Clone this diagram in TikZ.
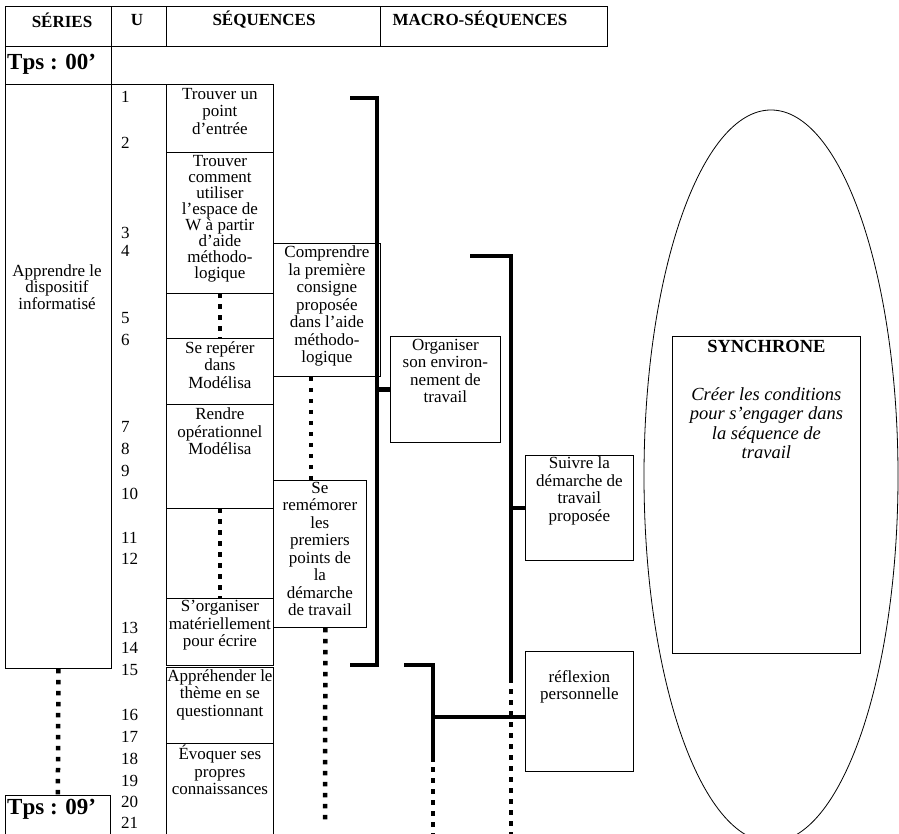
\documentclass[tikz,border=0pt]{standalone}
\usepackage{fontspec}
\setmainfont{Liberation Serif}
\usetikzlibrary{positioning,shapes.geometric}

\tikzset{
  cell/.style={draw,line width=0.8pt,anchor=north west,inner sep=0pt},
  txt/.style={font=\fontsize{17}{17.5}\selectfont,align=center,inner sep=0pt,anchor=north},
  head/.style={font=\fontsize{17}{18}\selectfont\bfseries,inner sep=0pt},
  tps/.style={font=\fontsize{23}{24}\selectfont\bfseries,inner sep=0pt,anchor=west},
  num/.style={font=\fontsize{17}{17}\selectfont,inner sep=0pt,anchor=west},
  brace/.style={line width=4.5pt},
  dots/.style={line width=4.5pt,dash pattern=on 4.5pt off 6.5pt},
}

\begin{document}
\begin{tikzpicture}[x=1pt,y=-1pt]
  \useasboundingbox (0,0) rectangle (899,834);
  \clip (0,0) rectangle (899,834);
  % en-tete
  \node[cell,minimum width=106,minimum height=40] (series) at (5,6) {};
  \node[cell,minimum width=55,minimum height=40] (u) at (111,6) {};
  \node[cell,minimum width=214,minimum height=40] (seq) at (166,6) {};
  \node[cell,minimum width=227,minimum height=40] (macro) at (380,6) {};
  \node[head] (seriest) at (62,20) {SÉRIES};
  \node[head] (ut) at (137,20) {U};
  \node[head] (seqt) at (264,20) {SÉQUENCES};
  \node[head] (macrot) at (480,20) {MACRO-SÉQUENCES};
  \node[cell,minimum width=106,minimum height=38] (tps0) at (5,46) {};
  \node[tps] (tps0t) at (7,64) {Tps : 00’};

  % series
  \node[cell,minimum width=106,minimum height=584] (appr) at (5,84) {};
  \node[txt,anchor=center,font=\fontsize{17}{14.5}\selectfont] (apprt) at (57,287) {Apprendre le\\dispositif\\informatisé};
  \node[cell,minimum width=105,minimum height=60] (tps9) at (5,795) {};
  \node[tps] (tps9t) at (7,809) {Tps : 09’};
  \draw[line width=0.8pt] (appr.north east) -- (166,84);

  % unites
  \foreach \n/\y in {1/97,2/143,3/233,4/251,5/318,6/340,7/427,8/449,9/471,10/494,
                     11/538,12/559,13/628,14/648,15/670,16/715,17/737,18/759,19/781,20/802,21/823}
    \node[num] (u\n) at (121,\y) {\n};

  % sequences
  \node[cell,minimum width=107,minimum height=68] (s1) at (166,84) {};
  \node[cell,minimum width=107,minimum height=141] (s2) at (166,152) {};
  \node[cell,minimum width=107,minimum height=45] (s3) at (166,293) {};
  \node[cell,minimum width=107,minimum height=66] (s4) at (166,338) {};
  \node[cell,minimum width=107,minimum height=104] (s5) at (166,404) {};
  \node[cell,minimum width=107,minimum height=90] (s6) at (166,508) {};
  \node[cell,minimum width=107,minimum height=67] (s7) at (166,598) {};
  \node[cell,minimum width=107,minimum height=76] (s8) at (166,667) {};
  \node[cell,minimum width=107,minimum height=120] (s9) at (166,743) {};
  \node[txt,below=4pt of s1.north] (s1t) {Trouver un\\point\\d’entrée};
  \node[txt,below=3pt of s2.north,font=\fontsize{17}{16}\selectfont] (s2t) {Trouver\\comment\\utiliser\\l’espace de\\W à partir\\d’aide\\méthodo-\\logique};
  \node[txt,below=3pt of s4.north] (s4t) {Se repérer\\dans\\Modélisa};
  \node[txt,below=4pt of s5.north] (s5t) {Rendre\\opérationnel\\Modélisa};
  \node[txt,below=2pt of s7.north] (s7t) {S’organiser\\matériellement\\pour écrire};
  \node[txt,below=2pt of s8.north] (s8t) {Appréhender le\\thème en se\\questionnant};
  \node[txt,below=2pt of s9.north] (s9t) {Évoquer ses\\propres\\connaissances};
  \node[cell,minimum width=107,minimum height=133] (c1) at (273,243) {};
  \node[cell,minimum width=93,minimum height=147] (c2) at (273,480) {};
  \node[txt,below=3pt of c1.north] (c1t) {Comprendre\\la première\\consigne\\proposée\\dans l’aide\\méthodo-\\logique};
  \node[txt,below=2pt of c2.north] (c2t) {Se\\remémorer\\les\\premiers\\points de\\la\\démarche\\de travail};
  \draw[dots] (s3.north) -- (s3.south);
  \draw[dots] (s6.north) -- (s6.south);
  \draw[dots] ([xshift=-16]c1.south) -- ([xshift=-9]c2.north);
  \coordinate (c2end) at (325,822);
  \draw[dots] ([xshift=5.5]c2.south) -- (c2end);
  \draw[dots] (appr.south) -- (tps9.north);

  % macro-sequences
  \node[cell,minimum width=110,minimum height=106] (m1) at (390,336) {};
  \node[cell,minimum width=108,minimum height=105] (m2) at (525,455) {};
  \node[cell,minimum width=108,minimum height=120] (m3) at (525,651) {};
  \node[txt,below=3pt of m1.north] (m1t) {Organiser\\son environ-\\nement de\\travail};
  \node[txt,below=2pt of m2.north] (m2t) {Suivre la\\démarche de\\travail\\proposée};
  \node[txt,below=19pt of m3.north] (m3t) {réflexion\\personnelle};

  \coordinate (b1a) at (350,98);
  \coordinate (b1b) at (350,665);
  \draw[brace] (b1a) -- ++(27,0) |- (b1b);
  \draw[brace] (m1.west) -- ++(-13,0);
  \coordinate (b2a) at (470,256);
  \coordinate (b2b) at (511,683);
  \draw[brace] (b2a) -| (b2b);
  \draw[brace] (m2.west) -- ++(-14,0);
  \coordinate (b2c) at (511,834);
  \draw[dots] ([yshift=5]b2b) -- (b2c);
  \coordinate (b3a) at (404,665);
  \coordinate (b3b) at (433,762);
  \draw[brace] (b3a) -| (b3b);
  \coordinate (b3c) at (433,834);
  \draw[dots] ([yshift=6]b3b) -- (b3c);
  \coordinate (j3) at (433,717);
  \draw[brace] (j3) -- (j3 -| m3.west);

  % synchrone
  \node[draw,ellipse,line width=0.8pt,inner sep=0pt,minimum width=254,minimum height=732] (zone) at (771,476) {};
  \node[cell,minimum width=188,minimum height=317] (syn) at (672,336) {};
  \node[head,font=\fontsize{18.5}{20}\selectfont\bfseries,below=4pt of syn.north] (synt) {SYNCHRONE};
  \node[txt,font=\fontsize{18.5}{19.5}\selectfont\itshape,below=47pt of synt.north] (synx) {Créer les conditions\\pour s’engager dans\\la séquence de\\travail};
\end{tikzpicture}
\end{document}
